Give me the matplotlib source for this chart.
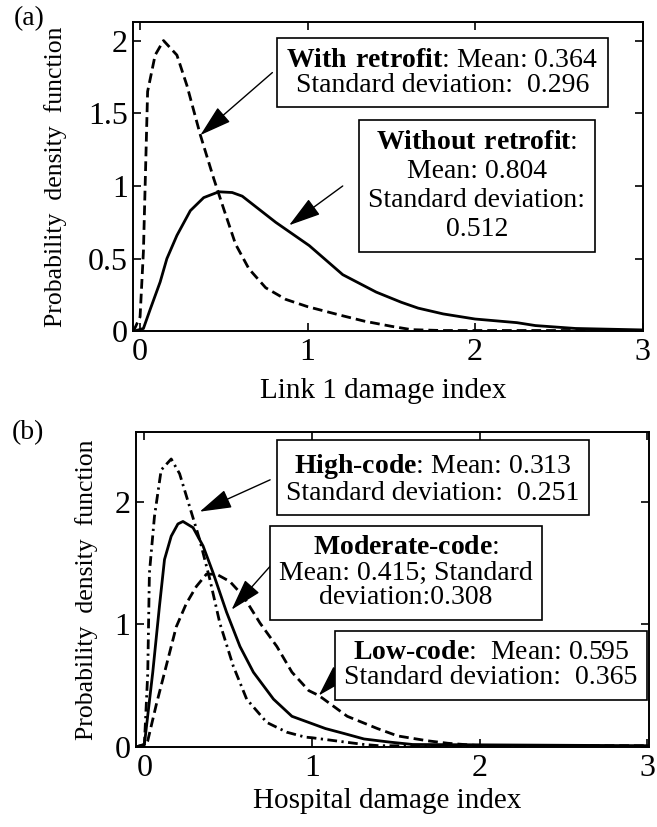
import matplotlib
matplotlib.use('Agg')
import matplotlib.pyplot as plt
from matplotlib.ticker import FuncFormatter

plt.rcParams['font.family'] = ['Liberation Serif', 'DejaVu Serif']
plt.rcParams['mathtext.fontset'] = 'custom'
plt.rcParams['mathtext.rm'] = 'Liberation Serif'
plt.rcParams['mathtext.bf'] = 'Liberation Serif:bold'

# (a) Link 1 damage index
a_with_x = [-0.04, 0.0, 0.02, 0.045, 0.09, 0.14, 0.22, 0.28, 0.36, 0.44, 0.5, 0.57, 0.65, 0.75, 0.87, 1.0,
            1.1, 1.2, 1.34, 1.5, 1.62, 1.8, 3.0]
a_with_y = [0.0, 0.1, 0.55, 1.65, 1.9, 2.0, 1.9, 1.69, 1.35, 1.05, 0.84, 0.6, 0.43, 0.3, 0.22, 0.17,
            0.14, 0.11, 0.07, 0.035, 0.012, 0.006, 0.006]
a_without_x = [-0.04, 0.02, 0.06, 0.12, 0.16, 0.22, 0.3, 0.38, 0.47, 0.55, 0.61, 0.71, 0.81, 0.91, 1.01,
               1.21, 1.41, 1.56, 1.66, 1.81, 2.0, 2.25, 2.36, 2.6, 3.0]
a_without_y = [0.0, 0.02, 0.15, 0.34, 0.5, 0.66, 0.83, 0.92, 0.96, 0.955, 0.93, 0.84, 0.75, 0.67, 0.59,
               0.39, 0.27, 0.2, 0.16, 0.12, 0.085, 0.06, 0.04, 0.02, 0.01]

# (b) Hospital damage index
b_high_x = [-0.05, 0.0, 0.02, 0.03, 0.06, 0.1, 0.16, 0.21, 0.27, 0.33, 0.39, 0.45, 0.53, 0.61, 0.73, 0.85,
            0.96, 1.0, 1.14, 1.31, 1.4, 3.0]
b_high_y = [0.0, 0.02, 0.6, 1.42, 1.88, 2.26, 2.35, 2.23, 1.96, 1.69, 1.37, 1.01, 0.66, 0.39, 0.2, 0.12,
            0.08, 0.075, 0.05, 0.02, 0.01, 0.005]
b_mod_x = [-0.05, 0.0, 0.05, 0.09, 0.12, 0.16, 0.2, 0.23, 0.29, 0.35, 0.41, 0.49, 0.57, 0.65, 0.77, 0.88,
           0.98, 1.08, 1.19, 1.31, 1.46, 1.6, 3.0]
b_mod_y = [0.0, 0.02, 0.61, 1.15, 1.53, 1.72, 1.82, 1.84, 1.79, 1.64, 1.42, 1.1, 0.82, 0.61, 0.39, 0.25,
           0.2, 0.15, 0.11, 0.065, 0.04, 0.02, 0.01]
b_low_x = [-0.05, 0.0, 0.02, 0.07, 0.13, 0.19, 0.25, 0.31, 0.37, 0.43, 0.51, 0.59, 0.69, 0.79, 0.88, 0.98,
           1.04, 1.21, 1.39, 1.51, 1.69, 1.81, 2.0, 3.0]
b_low_y = [0.0, 0.0, 0.05, 0.34, 0.66, 0.98, 1.17, 1.31, 1.41, 1.41, 1.35, 1.23, 1.01, 0.82, 0.61, 0.46,
           0.42, 0.25, 0.15, 0.09, 0.05, 0.03, 0.01, 0.01]

a_yticks = [0, 0.5, 1, 1.5, 2]
b_yticks = [0, 1, 2]
xticks = [0, 1, 2, 3]

a_texts = [r'$\mathbf{With\ retrofit}$: Mean: 0.364' + '\nStandard deviation:  0.296',
           r'$\mathbf{Without\ retrofit}$:' + '\nMean: 0.804\nStandard deviation:\n0.512']
b_texts = [r'$\mathbf{High}$' + '-' + r'$\mathbf{code}$: Mean: 0.313' + '\nStandard deviation:  0.251',
           r'$\mathbf{Moderate}$' + '-' + r'$\mathbf{code}$:' + '\nMean: 0.415; Standard\ndeviation:0.308',
           r'$\mathbf{Low}$' + '-' + r'$\mathbf{code}$:  Mean: 0.595' + '\nStandard deviation:  0.365']

DASH = (0, (3.5, 1.8))
DASHDOT = (0, (3.5, 1.6, 0.8, 1.6))
fmt = FuncFormatter(lambda v, p: '%g' % v)


def style_axes(ax, xlim, ylim, yticks):
    ax.set_xlim(*xlim)
    ax.set_ylim(*ylim)
    ax.set_xticks(xticks)
    ax.set_yticks(yticks)
    ax.xaxis.set_major_formatter(fmt)
    ax.yaxis.set_major_formatter(fmt)
    ax.tick_params(direction='in', top=True, right=True, length=6, width=1.2, labelsize=23)
    ax.tick_params(axis='x', pad=5)
    ax.tick_params(axis='y', pad=4)
    for s in ax.spines.values():
        s.set_linewidth(1.4)


def box_note(ax, txt, xy, tip, start, ls=1.0):
    ax.annotate('', xy=tip, xytext=start,
                arrowprops=dict(arrowstyle='-|>,head_length=1.0,head_width=0.3', mutation_scale=20,
                                lw=1.0, color='k', shrinkA=0, shrinkB=0))
    ax.text(xy[0], xy[1], txt, ha='center', va='center', fontsize=20, linespacing=ls,
            bbox=dict(boxstyle='square,pad=0.34', fc='white', ec='k', lw=1.2), zorder=5)


fig = plt.figure(figsize=(6.57, 8.27), dpi=100)

ax1 = fig.add_axes([0.203, 0.5993, 0.775, 0.3745])
ax1.plot(a_with_x, a_with_y, color='k', lw=2, ls=DASH)
ax1.plot(a_without_x, a_without_y, color='k', lw=2)
style_axes(ax1, (-0.04, 3.0), (0, 2.13), a_yticks)
box_note(ax1, a_texts[0], (1.805, 1.78), (0.36, 1.35), (0.79, 1.78))
box_note(ax1, a_texts[1], (2.01, 1.0), (0.89, 0.73), (1.21, 1.0), ls=1.22)
ax1.set_xlabel('Link 1 damage index', fontsize=21)
ax1.set_ylabel('Probability  density  function', fontsize=18.5)
ax1.xaxis.set_label_coords(0.49, -0.15)
ax1.yaxis.set_label_coords(-0.13, 0.5)

ax2 = fig.add_axes([0.207, 0.0968, 0.781, 0.3808])
ax2.plot(b_high_x, b_high_y, color='k', lw=2, ls=DASHDOT)
ax2.plot(b_mod_x, b_mod_y, color='k', lw=2)
ax2.plot(b_low_x, b_low_y, color='k', lw=2, ls=DASH)
style_axes(ax2, (-0.05, 3.01), (0, 2.57), b_yticks)
box_note(ax2, b_texts[0], (1.72, 2.19), (0.33, 1.92), (0.75, 2.18))
box_note(ax2, b_texts[1], (1.56, 1.42), (0.52, 1.12), (0.76, 1.49))
box_note(ax2, b_texts[2], (2.066, 0.668), (1.04, 0.42), (1.2, 0.65))
ax2.set_xlabel('Hospital damage index', fontsize=21)
ax2.set_ylabel('Probability  density  function', fontsize=18.5)
ax2.xaxis.set_label_coords(0.49, -0.13)
ax2.yaxis.set_label_coords(-0.075, 0.5)

fig.text(0.044, 0.977, '(a)', fontsize=20, va='center', ha='center')
fig.text(0.042, 0.477, '(b)', fontsize=20, va='center', ha='center')

fig.savefig('out.png', dpi=100)
